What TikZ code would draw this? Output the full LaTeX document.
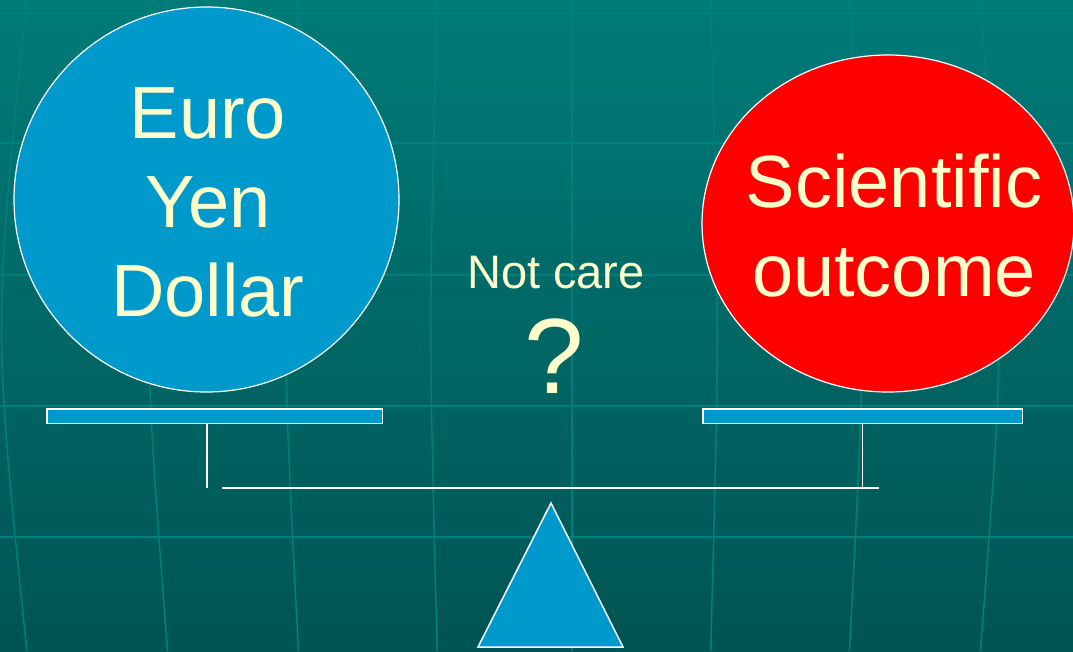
\documentclass[tikz,border=0pt]{standalone}
\usepackage{fontspec}
\setmainfont{Liberation Sans}

\definecolor{bgtop}{RGB}{0,123,120}
\definecolor{bgbottom}{RGB}{0,84,83}
\definecolor{gridline}{RGB}{0,127,123}
\definecolor{panblue}{RGB}{0,153,204}
\definecolor{cream}{RGB}{255,255,204}

\begin{document}
\begin{tikzpicture}[x = 1pt, y = -1pt,
        weight/.style = {text = cream, align = center, inner sep = 0pt, font = \fontsize{74}{89}\selectfont},
        pan/.style = {draw = white, line width = 1.5pt, fill = panblue, inner sep = 0pt, minimum height = 14.5pt},
        rod/.style = {white, line width = 1.8pt}
    ]
    \useasboundingbox (0, 0) rectangle (1073, 651);

    % backdrop with the faint globe lines
    \shade [top color = bgtop, bottom color = bgbottom] (0, 0) rectangle (1073, 651);
    \foreach \y in {13, 143, 275, 406, 537}
        \draw [gridline, line width = 2.5pt] (0, \y) -- (1073, \y);
    \foreach \x in {10, 155, 290, 433, 572, 715, 858, 993}
        \draw [gridline, line width = 1.5pt]
            ({\x + 0.03*(572 - \x)}, 0) .. controls ({\x - 0.03*(572 - \x)}, 325) .. ({\x + 0.03*(572 - \x)}, 651);

    % the two weights
    \filldraw [fill = panblue, draw = white, line width = 1.2pt]
        (206.5, 199.5) circle [radius = 192.5]
        node (money) [weight] at (208, 202) {Euro\\Yen\\Dollar}
    ;
    \filldraw [fill = red, draw = white, line width = 1.2pt]
        (888, 223.5) ellipse [x radius = 186, y radius = 168.5]
        node (science) [weight] at (894, 225.5) {Scientific\\outcome}
    ;

    \node (notcare) [anchor = base, text = cream, font = \fontsize{47}{56}\selectfont] at (556, 288) {Not care};
    \node (query) [anchor = base, text = cream, font = \fontsize{107}{120}\selectfont] at (554, 393) {?};

    % the balance
    \node (leftpan) [pan, minimum width = 335.5pt] at (214.5, 416) {};
    \node (rightpan) [pan, minimum width = 319.5pt] at (862.5, 416) {};

    \coordinate (leftfoot) at (207, 488);
    \coordinate (beamleft) at (222, 488);
    \coordinate (beamright) at (879, 488);
    \coordinate (pivot) at (551, 503);

    \draw [rod] (leftpan.south -| leftfoot) -- (leftfoot);
    \draw [rod] (rightpan.south) -- (rightpan.south |- beamright);
    \draw [rod] (beamleft) -- (beamright);

    \filldraw [fill = panblue, draw = white, line width = 1.5pt]
        (pivot) -- (478, 647) -- (623, 647) -- cycle;
\end{tikzpicture}
\end{document}
